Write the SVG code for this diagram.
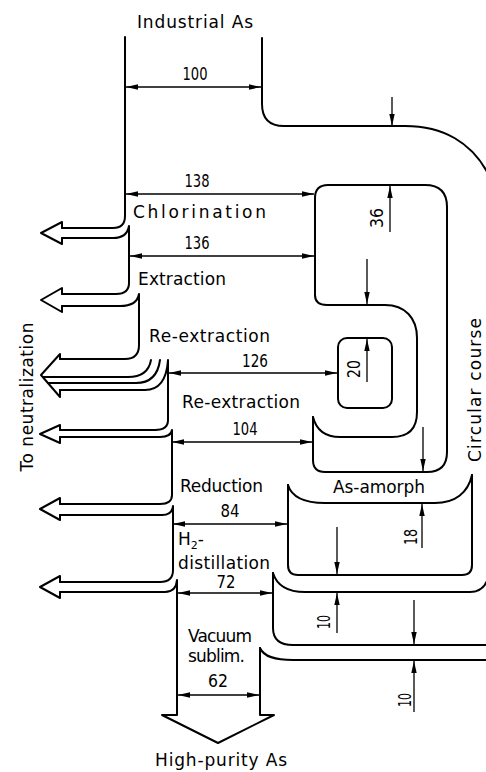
<svg xmlns="http://www.w3.org/2000/svg" width="486" height="772" viewBox="0 0 486 772">
<style>
.ln{fill:none;stroke:#000;stroke-width:2;stroke-linejoin:round;stroke-linecap:round}
.dim{fill:none;stroke:#000;stroke-width:1.3}
.t{font-family:"DejaVu Sans","Liberation Sans",sans-serif;font-size:17px;fill:#000}
.n{font-family:"DejaVu Sans","Liberation Sans",sans-serif;font-size:17px;fill:#000}
</style>
<defs>
<marker id="ah" viewBox="0 0 12 6" refX="12" refY="3" markerWidth="12" markerHeight="6" orient="auto-start-reverse" markerUnits="userSpaceOnUse"><path d="M0,0.3 L12,3 L0,5.7 Z" fill="#000"/></marker>
</defs>
<rect width="486" height="772" fill="#fff"/>

<g id="main-stream">
<path class="ln" d="M125,37 V216 Q125,228 113,228 H62"/>
<path class="ln" d="M262,38 V104 Q262,126 284,126 H405 C440,126 474,140 492,182"/>
<text class="t" x="137" y="28" textLength="116" lengthAdjust="spacing">Industrial As</text>
</g>

<g id="chlorination">
<path class="ln" d="M62,228 V222 L41,233 L62,244 V238"/>
<path class="ln" d="M62,238 H113 Q127,238 129,226 V283 Q129,294 116,294 H62"/>
<text class="t" x="133" y="218" textLength="133" lengthAdjust="spacing">Chlorination</text>
</g>

<g id="extraction">
<path class="ln" d="M62,294 V288 L41,300 L62,312 V306"/>
<path class="ln" d="M62,306 H120 Q137,306 139,294 V345 Q139,359 125,359 H60"/>
<text class="t" x="138" y="285" textLength="88" lengthAdjust="spacing">Extraction</text>
</g>

<g id="re-extraction-1">
<path class="ln" d="M60,359 V354 L41,375 L60,397 V390"/>
<path class="ln" d="M43,377 H128 Q148,377 151,360"/>
<path class="ln" d="M48,383 H136 Q157,383 160,360"/>
<path class="ln" d="M60,390 H145 Q166,390 168,360 V420 Q168,430 155,430 H60"/>
<text class="t" x="149" y="342" textLength="121" lengthAdjust="spacing">Re-extraction</text>
</g>

<g id="re-extraction-2">
<path class="ln" d="M60,430 V425 L40,434 L60,443 V437"/>
<path class="ln" d="M60,437 H160 Q171,437 172,430 V495 Q172,504 160,504 H60"/>
<text class="t" x="182" y="408" textLength="118" lengthAdjust="spacing">Re-extraction</text>
</g>

<g id="reduction">
<path class="ln" d="M60,504 V498 L40,509 L60,520 V515"/>
<path class="ln" d="M60,515 H162 Q172,515 173,506 V570 Q173,582 160,582 H60"/>
<text class="t" x="180" y="492" textLength="83" lengthAdjust="spacing">Reduction</text>
</g>

<g id="h2-distillation">
<path class="ln" d="M60,582 V576 L40,587 L60,598 V592"/>
<path class="ln" d="M273,573 V628 Q273,645 293,645 H488"/>
<path class="ln" d="M273,573 C277,586 288,592 305,592 H470 Q484,592 488,578"/>
<text class="t" x="178" y="545">H<tspan font-size="11" dy="4">2</tspan><tspan dy="-4">-</tspan></text>
<text class="t" x="178" y="569" textLength="92" lengthAdjust="spacing">distillation</text>
</g>

<g id="vacuum-sublimation">
<path class="ln" d="M60,592 H165 Q176,592 177,580 V715 H162 L218,743 L274,715 H260 V648"/>
<path class="ln" d="M260,648 C264,657 275,660 293,660 H488"/>
<text class="t" x="188" y="642" textLength="64" lengthAdjust="spacing">Vacuum</text>
<text class="t" x="188" y="662" textLength="57" lengthAdjust="spacing">sublim.</text>
<text class="t" x="155" y="766" textLength="132" lengthAdjust="spacing">High-purity As</text>
</g>

<g id="circular-course">
<path class="ln" d="M315,295 V198 Q315,185 328,185 H425 Q447,185 447,207 V452 Q447,472 427,472 H325 Q313,472 313,460 V417"/>
<path class="ln" d="M315,295 Q315,305 327,305 H385 C405,305 417,318 417,338 V412 Q417,437 392,437 H340 Q318,437 313,417"/>
<rect class="ln" x="338" y="338" width="54" height="70" rx="9"/>
<text class="t" transform="translate(481,390) rotate(-90)" text-anchor="middle" textLength="144" lengthAdjust="spacing">Circular course</text>
</g>

<g id="as-amorph">
<path class="ln" d="M288,485 V565 Q288,575 298,575 H462 Q472,575 472,565 V475"/>
<path class="ln" d="M288,485 C292,498 305,503 325,503 H435 C455,503 468,493 472,475"/>
<text class="t" x="333" y="493" textLength="92" lengthAdjust="spacing">As-amorph</text>
</g>

<g id="neutralization">
<text class="t" transform="translate(33,397) rotate(-90)" text-anchor="middle" textLength="149" lengthAdjust="spacing">To neutralization</text>
</g>

<g id="connectors">
<line class="dim" x1="126" y1="87" x2="261" y2="87" marker-start="url(#ah)" marker-end="url(#ah)"/>
<line class="dim" x1="126" y1="194" x2="314" y2="194" marker-start="url(#ah)" marker-end="url(#ah)"/>
<line class="dim" x1="130" y1="256" x2="314" y2="256" marker-start="url(#ah)" marker-end="url(#ah)"/>
<line class="dim" x1="169" y1="373" x2="337" y2="373" marker-start="url(#ah)" marker-end="url(#ah)"/>
<line class="dim" x1="172" y1="442" x2="312" y2="442" marker-start="url(#ah)" marker-end="url(#ah)"/>
<line class="dim" x1="173" y1="524" x2="287" y2="524" marker-start="url(#ah)" marker-end="url(#ah)"/>
<line class="dim" x1="178" y1="593" x2="272" y2="593" marker-start="url(#ah)" marker-end="url(#ah)"/>
<line class="dim" x1="178" y1="695" x2="259" y2="695" marker-start="url(#ah)" marker-end="url(#ah)"/>
<line class="dim" x1="392" y1="97" x2="392" y2="126" marker-end="url(#ah)"/>
<line class="dim" x1="390" y1="232" x2="390" y2="186" marker-end="url(#ah)"/>
<line class="dim" x1="367" y1="259" x2="367" y2="304" marker-end="url(#ah)"/>
<line class="dim" x1="367" y1="382" x2="367" y2="339" marker-end="url(#ah)"/>
<line class="dim" x1="423" y1="427" x2="423" y2="471" marker-end="url(#ah)"/>
<line class="dim" x1="422" y1="548" x2="422" y2="504" marker-end="url(#ah)"/>
<line class="dim" x1="337" y1="527" x2="337" y2="574" marker-end="url(#ah)"/>
<line class="dim" x1="337" y1="633" x2="337" y2="593" marker-end="url(#ah)"/>
<line class="dim" x1="414" y1="600" x2="414" y2="644" marker-end="url(#ah)"/>
<line class="dim" x1="414" y1="712" x2="414" y2="661" marker-end="url(#ah)"/>
</g>

<g id="dimension-labels">
<text class="n" x="195" y="80" text-anchor="middle" textLength="25" lengthAdjust="spacingAndGlyphs">100</text>
<text class="n" x="197" y="187" text-anchor="middle" textLength="25" lengthAdjust="spacingAndGlyphs">138</text>
<text class="n" x="197" y="249" text-anchor="middle" textLength="25" lengthAdjust="spacingAndGlyphs">136</text>
<text class="n" x="255" y="367" text-anchor="middle" textLength="26" lengthAdjust="spacingAndGlyphs">126</text>
<text class="n" x="245" y="435" text-anchor="middle" textLength="25" lengthAdjust="spacingAndGlyphs">104</text>
<text class="n" x="230" y="517" text-anchor="middle" textLength="19" lengthAdjust="spacingAndGlyphs">84</text>
<text class="n" x="226" y="588" text-anchor="middle" textLength="19" lengthAdjust="spacingAndGlyphs">72</text>
<text class="n" x="218" y="687" text-anchor="middle" textLength="20" lengthAdjust="spacingAndGlyphs">62</text>
<text class="n" transform="translate(383,218) rotate(-90)" text-anchor="middle" textLength="20" lengthAdjust="spacingAndGlyphs">36</text>
<text class="n" transform="translate(360,369) rotate(-90)" text-anchor="middle" textLength="18" lengthAdjust="spacingAndGlyphs">20</text>
<text class="n" transform="translate(417,537) rotate(-90)" text-anchor="middle" textLength="16" lengthAdjust="spacingAndGlyphs">18</text>
<text class="n" transform="translate(330,622) rotate(-90)" text-anchor="middle" textLength="14" lengthAdjust="spacingAndGlyphs">10</text>
<text class="n" transform="translate(411,700) rotate(-90)" text-anchor="middle" textLength="14" lengthAdjust="spacingAndGlyphs">10</text>
</g>
</svg>
